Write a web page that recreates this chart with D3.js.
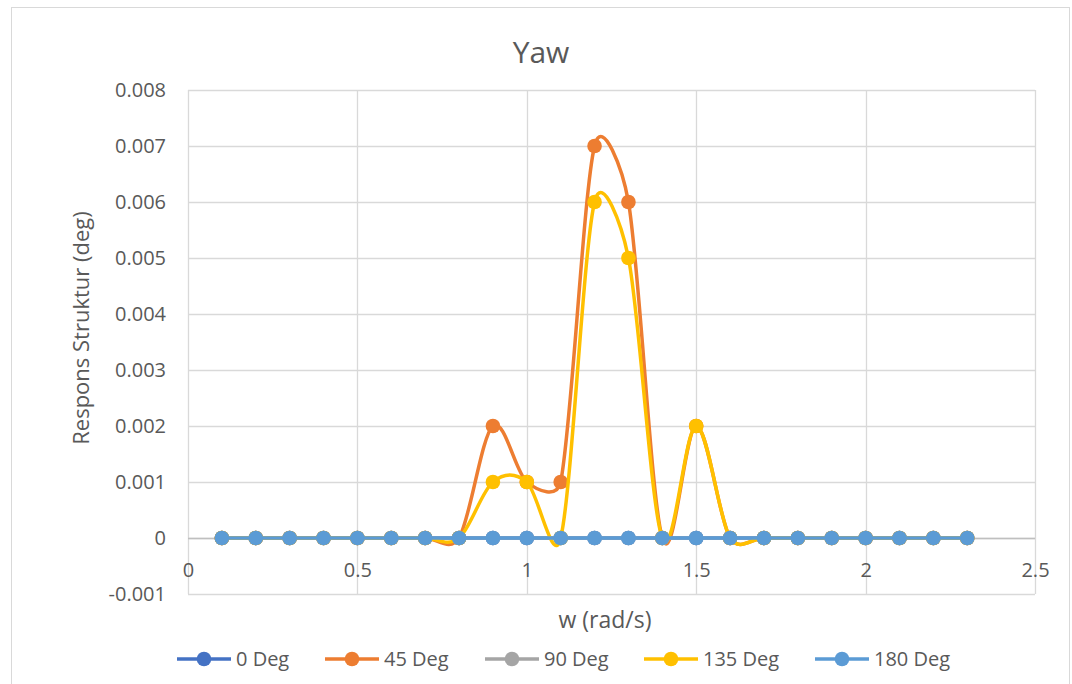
<!DOCTYPE html>
<html>
<head>
<meta charset="utf-8">
<script src="https://cdn.jsdelivr.net/npm/d3@7"></script>
<style>
  html, body { margin: 0; padding: 0; background: #fff; }
  svg { display: block; }
  text { font-family: "Open Sans", "Noto Sans", sans-serif; fill: #595959; }
</style>
</head>
<body>
<svg id="chart" width="1072" height="684"></svg>
<script>
// Frequencies (rad/s)
const omega = [0.1, 0.2, 0.3, 0.4, 0.5, 0.6, 0.7, 0.8, 0.9, 1.0, 1.1, 1.2,
               1.3, 1.4, 1.5, 1.6, 1.7, 1.8, 1.9, 2.0, 2.1, 2.2, 2.3];

// Yaw response per heading (deg)
const deg0   = [0, 0, 0, 0, 0, 0, 0, 0, 0, 0, 0, 0, 0, 0, 0, 0, 0, 0, 0, 0, 0, 0, 0];
const deg45  = [0, 0, 0, 0, 0, 0, 0, 0, 0.002, 0.001, 0.001, 0.007, 0.006, 0, 0.002, 0, 0, 0, 0, 0, 0, 0, 0];
const deg90  = [0, 0, 0, 0, 0, 0, 0, 0, 0, 0, 0, 0, 0, 0, 0, 0, 0, 0, 0, 0, 0, 0, 0];
const deg135 = [0, 0, 0, 0, 0, 0, 0, 0, 0.001, 0.001, 0, 0.006, 0.005, 0, 0.002, 0, 0, 0, 0, 0, 0, 0, 0];
const deg180 = [0, 0, 0, 0, 0, 0, 0, 0, 0, 0, 0, 0, 0, 0, 0, 0, 0, 0, 0, 0, 0, 0, 0];

const seriesNames  = ["0 Deg", "45 Deg", "90 Deg", "135 Deg", "180 Deg"];
const seriesValues = [deg0, deg45, deg90, deg135, deg180];
const seriesColors = ["#4472C4", "#ED7D31", "#A5A5A5", "#FFC000", "#5B9BD5"];

const xTicks = [0, 0.5, 1, 1.5, 2, 2.5];
const yTicks = [-0.001, 0, 0.001, 0.002, 0.003, 0.004, 0.005, 0.006, 0.007, 0.008];

const svg = d3.select("#chart");
const FONT = "'Open Sans', 'Noto Sans', sans-serif";
const MARKER_R = 7.3;
const LINE_W = 3.5;

// chart frame
svg.append("rect")
  .attr("x", 11.5).attr("y", 7.5)
  .attr("width", 1058).attr("height", 720)
  .attr("fill", "#fff").attr("stroke", "#d9d9d9").attr("stroke-width", 1);

const plot = { left: 188, right: 1035, top: 90, bottom: 594 };

const x = d3.scaleLinear().domain([0, 2.5]).range([plot.left, plot.right]);
const y = d3.scaleLinear().domain([-0.001, 0.008]).range([plot.bottom, plot.top]);

// horizontal gridlines
svg.append("g")
  .selectAll("line").data(yTicks).join("line")
  .attr("x1", plot.left).attr("x2", plot.right)
  .attr("y1", d => Math.round(y(d)) + 0.5).attr("y2", d => Math.round(y(d)) + 0.5)
  .attr("stroke", "#d9d9d9").attr("stroke-width", 1.3);

// vertical gridlines
svg.append("g")
  .selectAll("line").data(xTicks).join("line")
  .attr("y1", plot.top).attr("y2", plot.bottom)
  .attr("x1", d => Math.round(x(d)) + 0.5).attr("x2", d => Math.round(x(d)) + 0.5)
  .attr("stroke", "#d9d9d9").attr("stroke-width", 1.3);

// horizontal axis line at zero
svg.append("line")
  .attr("x1", plot.left).attr("x2", plot.right)
  .attr("y1", Math.round(y(0)) + 0.5).attr("y2", Math.round(y(0)) + 0.5)
  .attr("stroke", "#bfbfbf").attr("stroke-width", 1.3);

// y-axis labels
const yAxis = d3.axisLeft(y).tickValues(yTicks).tickSize(0).tickPadding(0)
  .tickFormat(d => d3.format(".3~f")(d).replace("−", "-"));
const gy = svg.append("g").attr("transform", `translate(${plot.left - 22},0)`).call(yAxis);
gy.select(".domain").remove();
gy.selectAll("text").style("font-size", "20px").attr("fill", "#595959")
  .style("font-family", FONT);

// x-axis labels sit beside the zero line
const xAxis = d3.axisBottom(x).tickValues(xTicks).tickSize(0).tickPadding(0)
  .tickFormat(d => String(d));
const gx = svg.append("g").attr("transform", `translate(0,${y(0) + 32})`).call(xAxis);
gx.select(".domain").remove();
gx.selectAll("text").style("font-size", "20px").attr("fill", "#595959")
  .attr("dy", "0.35em")
  .style("font-family", FONT);

// titles
svg.append("text").attr("x", 541).attr("y", 63).attr("text-anchor", "middle")
  .style("font-size", "30px").text("Yaw");
svg.append("text").attr("x", 605).attr("y", 628).attr("text-anchor", "middle")
  .style("font-size", "23px").text("w (rad/s)");
svg.append("text")
  .attr("transform", "translate(89,328) rotate(-90)")
  .attr("text-anchor", "middle")
  .style("font-size", "22px").text("Respons Struktur (deg)");

// smoothed line: cubic Bezier through the points, tangent handles of
// (next - prev) / 6 capped at half of the segment length
function smoothPath(vals) {
  const pts = vals.map((v, i) => [x(omega[i]), y(v)]);
  const n = pts.length;
  const dist = (a, b) => Math.hypot(b[0] - a[0], b[1] - a[1]);
  const p = d3.path();
  p.moveTo(pts[0][0], pts[0][1]);
  for (let i = 0; i < n - 1; i++) {
    const p0 = pts[Math.max(i - 1, 0)];
    const p1 = pts[i];
    const p2 = pts[i + 1];
    const p3 = pts[Math.min(i + 2, n - 1)];
    const d12 = dist(p1, p2);
    const d02 = dist(p0, p2);
    const d13 = dist(p1, p3);
    let f1 = 1 / 6, f2 = 1 / 6;
    if (d02 > 0 && d02 * f1 > d12 / 2) f1 = d12 / (2 * d02);
    if (d13 > 0 && d13 * f2 > d12 / 2) f2 = d12 / (2 * d13);
    const c1 = [p1[0] + f1 * (p2[0] - p0[0]), p1[1] + f1 * (p2[1] - p0[1])];
    const c2 = [p2[0] - f2 * (p3[0] - p1[0]), p2[1] - f2 * (p3[1] - p1[1])];
    p.bezierCurveTo(c1[0], c1[1], c2[0], c2[1], p2[0], p2[1]);
  }
  return p.toString();
}

seriesValues.forEach((vals, s) => {
  const g = svg.append("g");
  g.append("path")
    .attr("d", smoothPath(vals))
    .attr("fill", "none")
    .attr("stroke", seriesColors[s])
    .attr("stroke-width", LINE_W)
    .attr("stroke-linejoin", "round");
  g.selectAll("circle").data(vals).join("circle")
    .attr("cx", (d, i) => x(omega[i]))
    .attr("cy", d => y(d))
    .attr("r", MARKER_R)
    .attr("fill", seriesColors[s]);
});

// legend
const legendX = [177, 325, 485, 644, 815];
const legendY = 659;
const lg = svg.append("g");
seriesNames.forEach((name, s) => {
  const g = lg.append("g").attr("transform", `translate(${legendX[s]},${legendY})`);
  g.append("line").attr("x1", 0).attr("x2", 54).attr("y1", 0).attr("y2", 0)
    .attr("stroke", seriesColors[s]).attr("stroke-width", LINE_W);
  g.append("circle").attr("cx", 27).attr("cy", 0).attr("r", MARKER_R).attr("fill", seriesColors[s]);
  g.append("text").attr("x", 59).attr("y", 0).attr("dy", "0.35em")
    .style("font-size", "20px").text(name);
});
</script>
</body>
</html>
